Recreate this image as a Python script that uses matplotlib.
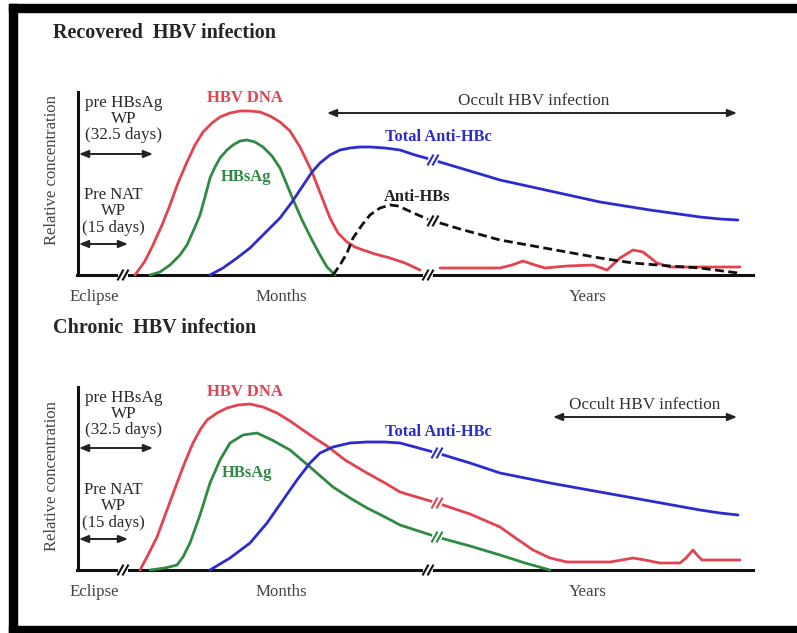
import numpy as np
import matplotlib
matplotlib.use("Agg")
import matplotlib.pyplot as plt
from matplotlib.patches import Rectangle

plt.rcParams['font.family'] = ['Liberation Serif', 'DejaVu Serif']

# ------------------------------------------------------------------
# Data: schematic time position (x) and relative concentration (h)
# ------------------------------------------------------------------
# Recovered HBV infection
rec_dna_early_t = [135, 145, 153, 162, 170, 178, 187, 195, 203, 212, 220, 230, 240, 250, 260,
                   270, 280, 290, 300, 312, 321, 330, 338, 347, 355, 363, 375, 390, 405, 420]
rec_dna_early_c = [0, 14, 30, 50, 70, 92, 113, 130, 143, 152, 158, 162, 164, 164, 163,
                   159, 153, 144, 128, 103, 80, 57, 42, 33, 28, 25, 21, 17, 12, 5]
rec_dna_late_t = [440, 500, 512, 523, 535, 545, 567, 593, 607, 620, 633, 643, 657, 670, 740]
rec_dna_late_c = [7, 7, 10, 14, 10, 7, 9, 10, 5, 17, 25, 23, 12, 8, 8]
rec_hbsag_t = [150, 160, 170, 180, 187, 195, 200, 205, 210, 215, 220, 227, 233, 240, 247,
               255, 263, 272, 280, 292, 302, 312, 320, 327, 335]
rec_hbsag_c = [0, 3, 10, 20, 30, 48, 60, 78, 97, 108, 117, 125, 130, 134, 135,
               133, 128, 119, 107, 78, 55, 35, 20, 8, 0]
rec_antihbc_t = [210, 223, 237, 250, 260, 270, 280, 292, 302, 312, 320, 330, 340, 350, 360,
                 370, 385, 400, 415, 433, 460, 500, 550, 600, 650, 700, 720, 738]
rec_antihbc_c = [0, 7, 17, 27, 37, 47, 57, 73, 88, 103, 112, 120, 125, 127, 128,
                 128, 127, 125, 120, 115, 107, 95, 84, 73, 65, 58, 56, 55]
rec_antihbs_t = [333, 340, 347, 353, 362, 370, 380, 390, 398, 407, 418, 430, 460, 500, 550,
                 600, 633, 670, 700, 738]
rec_antihbs_c = [0, 10, 22, 37, 50, 60, 67, 70, 69, 65, 60, 55, 46, 35, 26,
                 17, 12, 9, 7, 2]

# Chronic HBV infection
chr_dna_t = [140, 148, 157, 167, 177, 185, 193, 200, 207, 217, 227, 238, 250, 263, 277,
             290, 300, 313, 327, 345, 367, 385, 400, 420, 437, 470, 500, 517, 533, 550,
             567, 610, 622, 633, 645, 660, 680, 686, 693, 697, 702, 740]
chr_dna_c = [0, 15, 33, 60, 87, 108, 127, 140, 150, 157, 162, 165, 166, 163, 157,
             149, 142, 133, 124, 110, 97, 87, 78, 72, 67, 56, 43, 31, 20, 12,
             8, 8, 10, 12, 10, 7, 7, 12, 20, 15, 10, 10]
chr_hbsag_t = [150, 165, 177, 183, 190, 200, 210, 220, 230, 243, 257, 272, 290, 310, 333,
               350, 367, 385, 400, 437, 470, 500, 525, 550]
chr_hbsag_c = [0, 2, 5, 13, 27, 55, 87, 110, 127, 135, 137, 130, 120, 103, 83,
               72, 62, 53, 45, 33, 24, 15, 7, 0]
chr_antihbc_t = [210, 230, 250, 267, 283, 297, 310, 320, 333, 350, 367, 385, 400, 437, 470,
                 500, 550, 600, 650, 700, 720, 738]
chr_antihbc_c = [0, 12, 27, 47, 70, 90, 107, 117, 123, 127, 128, 128, 127, 117, 107,
                 97, 87, 78, 69, 60, 57, 55]

# Texts
titles = ["Recovered  HBV infection", "Chronic  HBV infection"]
y_label = "Relative concentration"
x_labels = ["Eclipse", "Months", "Years"]
wp1_lines = ["pre HBsAg", "WP", "(32.5 days)"]
wp2_lines = ["Pre NAT", "WP", "(15 days)"]
occult_label = "Occult HBV infection"
marker_names = ["HBV DNA", "HBsAg", "Total Anti-HBc", "Anti-HBs"]

RED = '#e2434f'
GREEN = '#2f8a42'
BLUE = '#2b2bd0'
TXT = '#2a2a2a'

# ------------------------------------------------------------------
W, H = 797, 633
fig = plt.figure(figsize=(W / 100, H / 100), dpi=100)
fig.patch.set_facecolor('white')
SPAN = 182


def panel(base_px):
    ax = fig.add_axes([0, (H - base_px) / H, 1, SPAN / H])
    ax.set_xlim(0, W)
    ax.set_ylim(0, SPAN)
    ax.axis('off')
    return ax


top = panel(275)
bot = panel(570)
ov = fig.add_axes([0, 0, 1, 1], zorder=10)
ov.set_xlim(0, W)
ov.set_ylim(H, 0)
ov.axis('off')


def curve(ax, t, c, color, **kw):
    ax.plot(t, c, color=color, lw=2.0, solid_joinstyle='round', solid_capstyle='round',
            clip_on=False, zorder=2, **kw)


def brk(ax, x, t, c, color):
    y = float(np.interp(x, t, c))
    ax.plot([x - 2.5, x + 2.5], [float(np.interp(x - 2.5, t, c)), float(np.interp(x + 2.5, t, c))],
            color='white', lw=3.5, zorder=3, clip_on=False)
    for dx in (-2.5, 2.5):
        ax.plot([x + dx - 2.5, x + dx + 2.5], [y - 4.5, y + 4.5], color=color, lw=1.5,
                zorder=4, clip_on=False)


def frame(ax):
    ax.plot([78, 78], [0, SPAN + 1], color='#111', lw=2.2, clip_on=False, zorder=1)
    ax.plot([77, 753], [0, 0], color='#111', lw=2.2, clip_on=False, zorder=1)
    for x in (123, 428):
        brk(ax, x, [0, W], [0, 0], '#111')


# Top panel
frame(top)
curve(top, rec_dna_early_t, rec_dna_early_c, RED)
curve(top, rec_dna_late_t, rec_dna_late_c, RED)
curve(top, rec_hbsag_t, rec_hbsag_c, GREEN)
curve(top, rec_antihbc_t, rec_antihbc_c, BLUE)
top.plot(rec_antihbs_t, rec_antihbs_c, color='#111', lw=2.0, ls=(0, (3.2, 1.6)),
         clip_on=False, zorder=2)
brk(top, 433, rec_antihbc_t, rec_antihbc_c, BLUE)
brk(top, 433, rec_antihbs_t, rec_antihbs_c, '#111')

# Bottom panel
frame(bot)
curve(bot, chr_dna_t, chr_dna_c, RED)
curve(bot, chr_hbsag_t, chr_hbsag_c, GREEN)
curve(bot, chr_antihbc_t, chr_antihbc_c, BLUE)
brk(bot, 437, chr_antihbc_t, chr_antihbc_c, BLUE)
brk(bot, 437, chr_dna_t, chr_dna_c, RED)
brk(bot, 437, chr_hbsag_t, chr_hbsag_c, GREEN)

# ------------------------------------------------------------------
# Overlay: border, texts, arrows (pixel coordinates)
ov.add_patch(Rectangle((9, 4), W, 8, color='black', zorder=0))
ov.add_patch(Rectangle((9, 4), 8, H, color='black', zorder=0))
ov.add_patch(Rectangle((9, 626), W, 10, color='black', zorder=0))


def darrow(x1, x2, y, color='#222'):
    ov.annotate('', xy=(x2, y), xytext=(x1, y),
                arrowprops=dict(arrowstyle='<|-|>,head_length=0.55,head_width=0.22',
                                color=color, lw=1.4, shrinkA=0, shrinkB=0))


def panel_text(off, title, ylab_y, occ_t, occ_x1, occ_y, occ_ty):
    ov.text(53, 33 + off, title, fontsize=14.5, fontweight='bold', color='#262626',
            ha='left', va='center')
    ov.text(52, ylab_y, y_label, fontsize=12, color='#444',
            rotation=90, ha='center', va='center')
    for i, s in enumerate(wp1_lines):
        ov.text(124, [103, 119, 135][i] + off, s, fontsize=12.3, color=TXT,
                ha='center', va='center')
    for i, s in enumerate(wp2_lines):
        ov.text(113, [195, 211, 228][i] + off, s, fontsize=12, color=TXT,
                ha='center', va='center')
    ov.text(94, 297 + off, x_labels[0], fontsize=12.2, color='#444', ha='center', va='center')
    ov.text(281, 297 + off, x_labels[1], fontsize=12.2, color='#444', ha='center', va='center')
    ov.text(588, 297 + off, x_labels[2], fontsize=12.2, color='#444', ha='center', va='center')
    ov.text(occ_t, occ_ty, occult_label, fontsize=12.3, color='#333', ha='center', va='center')
    darrow(occ_x1, 737, occ_y, '#222')


panel_text(0, titles[0], 170, 534, 327, 113, 101)
panel_text(295, titles[1], 476, 645, 553, 417, 405)

# arrows for window periods
darrow(79, 153, 154)
darrow(79, 128, 244)
darrow(79, 153, 448)
darrow(79, 128, 539)

# marker labels
ov.text(245, 98, marker_names[0], fontsize=12, fontweight='bold', color=RED, ha='center', va='center')
ov.text(246, 177, marker_names[1], fontsize=12, fontweight='bold', color=GREEN, ha='center', va='center')
ov.text(438, 137, marker_names[2], fontsize=11.8, fontweight='bold', color=BLUE, ha='center', va='center')
ov.text(417, 197, marker_names[3], fontsize=11.8, fontweight='bold', color='#222', ha='center', va='center')
ov.text(245, 392, marker_names[0], fontsize=12, fontweight='bold', color=RED, ha='center', va='center')
ov.text(247, 473, marker_names[1], fontsize=12, fontweight='bold', color=GREEN, ha='center', va='center')
ov.text(438, 432, marker_names[2], fontsize=11.8, fontweight='bold', color=BLUE, ha='center', va='center')

fig.savefig('out.png', dpi=100, facecolor='white')
